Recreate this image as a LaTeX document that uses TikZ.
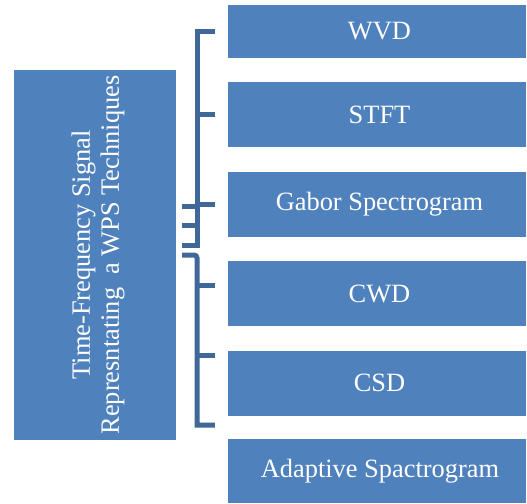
\documentclass[tikz,border=0pt]{standalone}
\usepackage{fontspec}
\setmainfont{Liberation Serif}
\usepackage{tikz}
\usetikzlibrary{calc}
\definecolor{boxblue}{HTML}{4F81BD}
\definecolor{braceblue}{HTML}{3F6797}

\begin{document}
\begin{tikzpicture}[x=1pt, y=-1pt,
    techbox/.style={fill=boxblue, text=white, minimum width=298pt, minimum height=65pt,
      inner sep=0pt, font=\fontsize{26.4}{29}\selectfont},
    brace/.style={draw=braceblue, line width=5pt}]
  \useasboundingbox (0,0) rectangle (527,503);
  % left box
  \node[fill=boxblue, minimum width=162pt, minimum height=370pt, inner sep=0pt] (tfsr) at (95,255) {};
  \node[rotate=90, align=center, text=white, font=\fontsize{26.4}{29}\selectfont] (tfsrlabel) at ([xshift=3pt]tfsr.center)
    {Time-Frequency Signal\\Represntating\ \ a WPS Techniques};
  % technique boxes
  \node[techbox, minimum height=53pt] (wvd) at (377,31.5) {\hspace*{5pt}WVD};
  \node[techbox] (stft) at (377,114.5) {\hspace*{5pt}STFT};
  \node[techbox] (gabor) at (377,204.5) {\hspace*{5pt}Gabor Spectrogram};
  \node[techbox] (cwd) at (377,293.5) {\hspace*{5pt}CWD};
  \node[techbox] (csd) at (377,383) {\hspace*{5pt}CSD};
  \node[techbox, minimum height=64pt] (adaptive) at (377,471) {\hspace*{6pt}Adaptive Spactrogram};
  % brackets
  \coordinate (spine) at (197,0);
  \coordinate (stub) at ($(tfsr.east)+(6,0)$);
  \draw[brace] ([xshift=-13pt]wvd.west) -- (spine |- wvd.west) -- (spine |- 0,245) [rounded corners=3pt] -- (stub |- 0,245);
  \draw[brace] (spine |- stft.west) -- ([xshift=-13pt]stft.west);
  \draw[brace] (spine |- gabor.west) -- ([xshift=-13pt]gabor.west);
  \draw[brace] (stub |- 0,206.5) -- (spine |- 0,206.5);
  \draw[brace] (stub |- 0,225) -- (spine |- 0,225);
  \draw[brace, rounded corners=3pt] (stub |- 0,255) -- (spine |- 0,255) [sharp corners] -- (spine |- 0,425) -- ([xshift=-13pt]csd.west |- 0,425);
  \draw[brace] (spine |- 0,285) -- ([xshift=-13pt]cwd.west |- 0,285);
  \draw[brace] (spine |- 0,355) -- ([xshift=-13pt]csd.west |- 0,355);
\end{tikzpicture}
\end{document}
